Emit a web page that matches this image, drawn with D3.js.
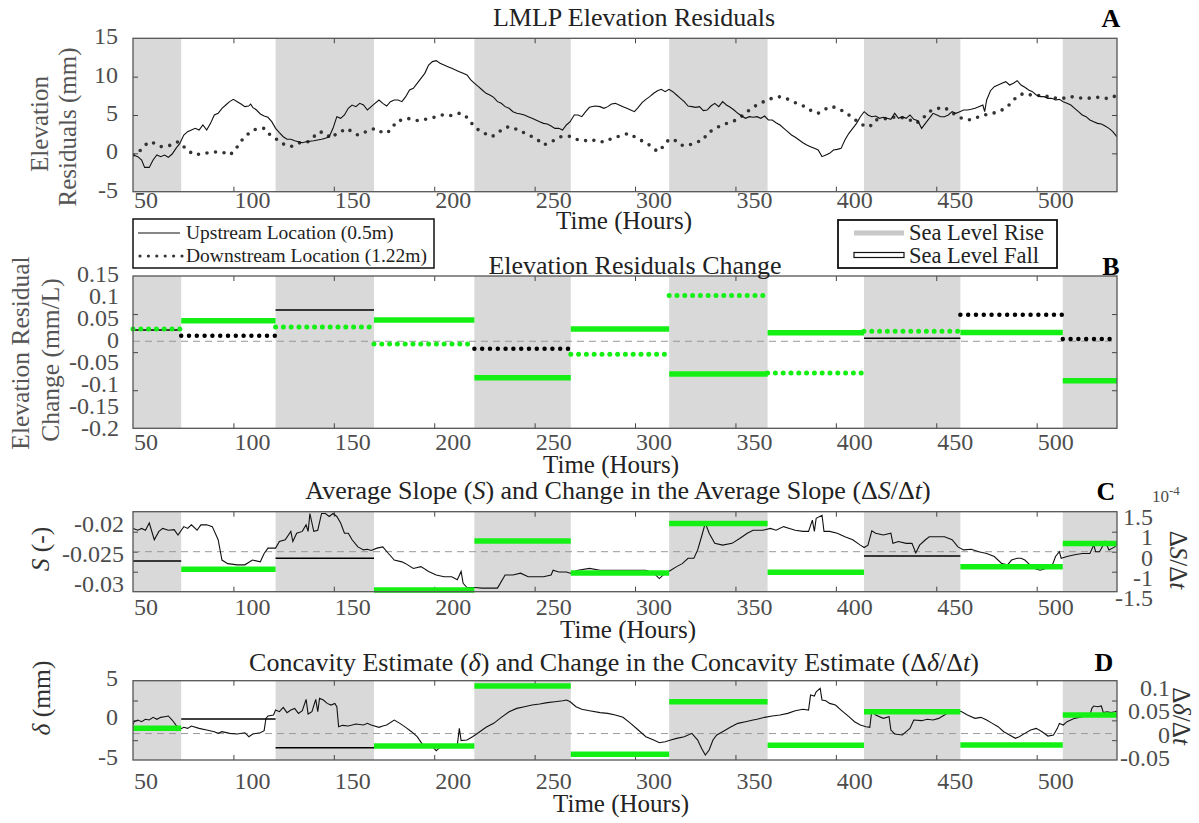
<!DOCTYPE html>
<html>
<head>
<meta charset="utf-8">
<script src="https://cdn.jsdelivr.net/npm/d3@7"></script>
<style>
  body { margin: 0; background: #fff; }
  svg { display: block; }
</style>
</head>
<body>
<div id="chart"></div>
<script>
// ---- data ----
const hourTicks = [50, 100, 150, 200, 250, 300, 350, 400, 450, 500];
// boundaries of the sea level rise / fall periods (hours); even intervals = rise (shaded)
const periodEdges = [50, 74, 121, 170, 220, 268, 317, 366, 414, 462, 513, 540];

// A: elevation residuals (mm)
const upstreamA = [[50.1,-0.22],[52.4,-0.43],[54.3,-0.87],[55.8,-1.83],[58.1,-1.83],[60.0,-0.87],[61.9,-0.22],[63.8,-0.43],[65.7,-0.22],[67.6,-0.52],[69.5,-0.09],[71.4,0.65],[73.3,1.30],[75.3,2.39],[77.2,2.83],[79.1,3.04],[81.0,3.26],[82.9,3.04],[84.8,3.70],[86.7,3.04],[88.6,3.91],[90.5,5.00],[92.4,5.22],[94.3,5.87],[96.2,6.30],[98.1,6.74],[100.0,7.04],[101.9,6.74],[103.8,6.43],[105.7,6.09],[107.6,6.17],[108.6,6.43],[109.6,6.00],[111.5,5.65],[113.4,5.13],[115.3,4.87],[117.2,4.70],[119.1,4.13],[121.0,3.26],[122.9,2.70],[124.8,2.17],[126.7,1.83],[128.6,1.83],[130.5,1.65],[132.4,1.52],[134.3,1.39],[136.2,1.52],[140.0,1.65],[143.9,1.83],[145.8,1.96],[147.7,2.17],[149.6,3.26],[151.5,4.78],[153.4,4.57],[155.3,5.00],[157.2,5.87],[159.1,6.30],[161.0,6.09],[162.9,6.52],[164.8,6.30],[166.7,5.65],[168.6,6.09],[170.5,6.52],[172.5,6.96],[174.4,6.52],[176.3,6.17],[178.2,6.74],[180.1,6.96],[182.0,6.96],[183.9,6.74],[185.8,7.39],[187.7,8.26],[189.6,8.48],[191.5,9.13],[193.4,9.78],[195.3,10.43],[197.2,11.52],[199.1,11.96],[201.0,12.09],[202.9,11.74],[204.9,11.52],[206.8,11.30],[208.7,11.09],[210.6,10.87],[212.5,10.65],[214.4,10.43],[216.3,10.22],[218.2,9.57],[220.1,9.13],[222.0,8.70],[223.9,8.26],[225.8,7.83],[227.7,7.61],[229.6,7.30],[231.5,6.74],[233.4,6.52],[235.3,6.09],[237.3,5.87],[239.2,5.43],[241.1,5.22],[243.0,5.13],[244.9,5.00],[246.8,4.78],[248.7,4.57],[250.6,4.35],[252.5,4.13],[254.4,3.91],[256.3,3.83],[258.2,3.57],[260.1,3.26],[262.0,3.26],[263.9,3.04],[265.8,3.70],[267.7,4.13],[269.7,5.00],[271.6,5.00],[273.5,4.78],[275.4,5.43],[277.3,6.00],[280.1,6.17],[282.6,6.09],[284.5,5.87],[286.4,6.09],[288.3,6.43],[290.2,6.52],[292.1,6.30],[294.0,6.09],[295.9,5.87],[297.8,5.65],[299.7,5.43],[301.6,6.00],[303.5,6.61],[305.4,7.04],[307.3,7.39],[309.3,7.83],[311.2,8.17],[313.1,8.35],[315.0,8.04],[316.9,8.35],[318.8,8.04],[320.7,7.61],[322.6,7.17],[324.5,6.74],[326.4,6.17],[328.3,6.09],[330.2,6.00],[332.1,6.09],[334.0,5.57],[335.9,5.65],[337.8,6.17],[339.7,6.52],[341.7,6.09],[343.6,6.74],[345.5,6.30],[347.4,6.00],[349.3,5.65],[351.2,5.22],[353.1,4.87],[355.0,4.57],[356.9,4.78],[358.8,4.70],[360.7,4.78],[362.6,4.57],[364.5,4.87],[366.4,4.35],[368.3,4.35],[370.2,4.00],[372.2,3.70],[374.1,3.26],[376.0,2.83],[377.9,2.39],[379.8,2.09],[381.7,1.74],[383.6,1.39],[385.5,1.09],[387.4,0.87],[389.3,0.65],[391.2,0.43],[393.1,-0.43],[395.0,-0.22],[396.9,0.00],[398.8,0.43],[400.7,0.52],[402.6,0.65],[404.5,1.74],[406.5,2.61],[408.4,3.26],[410.3,3.91],[412.2,4.78],[414.1,5.43],[416.0,5.00],[417.9,4.78],[419.8,4.87],[421.7,4.57],[423.6,4.70],[425.5,4.57],[427.4,4.43],[429.3,5.22],[431.2,4.57],[433.1,4.78],[435.0,4.57],[436.9,5.00],[438.8,4.43],[440.8,4.26],[442.7,3.26],[444.6,3.91],[446.5,4.57],[448.4,5.22],[450.3,5.00],[452.2,4.78],[454.1,4.78],[456.0,5.00],[457.9,5.43],[459.8,5.22],[461.7,5.43],[463.6,5.65],[465.5,5.65],[467.4,5.74],[469.3,5.87],[471.2,6.09],[473.2,6.30],[474.1,5.43],[475.1,6.96],[477.0,8.17],[478.9,8.70],[480.8,8.91],[482.7,9.13],[484.6,9.35],[486.5,8.91],[488.4,9.13],[490.3,9.48],[492.2,8.91],[494.1,8.61],[496.0,8.26],[497.9,8.04],[499.8,7.61],[501.7,7.39],[503.7,7.39],[505.6,7.17],[507.5,7.17],[509.4,6.96],[511.3,7.04],[513.2,6.74],[515.1,6.52],[517.0,6.30],[518.9,5.87],[520.8,5.43],[522.7,5.00],[524.6,4.78],[526.5,4.35],[528.4,4.13],[530.3,3.91],[532.2,3.83],[534.1,3.57],[536.0,3.26],[537.9,2.83],[539.9,2.17]];
const downstreamA = [[50.1,-0.22],[52.4,0.00],[55.2,0.87],[58.1,1.52],[61.0,1.30],[63.8,0.87],[66.7,0.96],[69.5,1.09],[72.4,1.52],[75.3,0.87],[78.1,0.22],[81.0,-0.22],[84.8,0.00],[88.6,0.09],[92.4,0.22],[95.3,0.09],[98.1,-0.22],[101.0,0.43],[102.9,1.30],[105.7,2.17],[109.6,3.04],[113.4,3.26],[115.3,3.26],[117.2,2.61],[120.0,2.17],[122.9,1.52],[125.8,1.09],[128.6,0.87],[131.5,1.22],[134.3,1.52],[137.2,1.52],[140.0,2.17],[142.9,2.83],[145.8,2.61],[148.6,1.96],[151.5,2.61],[154.4,2.96],[156.3,3.26],[159.1,2.83],[162.0,2.39],[164.8,2.70],[167.7,2.96],[170.5,3.26],[173.4,2.83],[176.3,2.61],[179.1,3.26],[181.0,4.13],[183.9,4.35],[186.7,4.57],[189.6,4.35],[192.5,4.26],[195.3,4.43],[198.2,4.57],[201.0,4.78],[203.9,5.00],[206.8,4.87],[209.6,5.00],[212.5,5.22],[215.3,5.00],[217.2,4.35],[220.1,3.48],[223.0,2.83],[225.8,2.52],[228.7,2.17],[231.5,2.61],[234.4,3.26],[237.3,3.48],[240.1,3.26],[243.0,2.83],[245.8,2.61],[248.7,2.17],[251.6,1.74],[254.4,1.09],[257.3,1.39],[260.1,1.74],[263.0,2.17],[265.8,2.26],[268.7,2.17],[271.6,1.74],[274.4,1.74],[277.3,1.52],[280.1,1.74],[282.6,1.52],[285.4,1.52],[288.3,1.96],[291.2,2.17],[294.0,2.39],[296.9,2.61],[299.7,2.17],[302.6,1.74],[305.4,1.39],[308.3,0.87],[311.2,0.22],[314.0,0.87],[316.9,1.83],[319.7,1.74],[322.6,1.09],[325.5,0.96],[328.3,1.22],[331.2,1.52],[334.0,1.74],[335.9,2.61],[338.8,3.04],[341.7,3.48],[344.5,3.83],[347.4,4.00],[350.2,4.35],[354.0,5.00],[356.9,5.65],[359.8,6.17],[362.6,6.52],[365.5,6.96],[368.3,7.17],[371.2,7.39],[374.1,7.30],[376.9,6.96],[379.8,6.61],[382.6,6.30],[385.5,6.00],[388.3,5.43],[391.2,5.22],[394.1,5.65],[396.9,6.09],[399.8,6.00],[402.6,5.65],[405.5,5.22],[408.4,4.57],[411.2,4.13],[414.1,3.57],[416.9,3.48],[419.8,4.35],[422.7,4.43],[425.5,4.57],[428.4,4.70],[431.2,4.78],[434.1,4.57],[436.9,4.35],[439.8,3.91],[442.7,4.35],[445.5,5.22],[448.4,5.74],[451.2,5.87],[454.1,6.00],[457.0,5.43],[459.8,5.00],[462.7,4.57],[465.5,4.35],[468.4,4.43],[471.2,4.78],[474.1,5.00],[477.0,5.22],[479.8,5.30],[482.7,5.65],[485.5,6.09],[488.4,6.96],[491.3,7.61],[494.1,7.83],[497.0,7.61],[499.8,7.48],[502.7,7.61],[505.6,7.39],[508.4,7.17],[511.3,7.30],[514.1,7.17],[517.0,7.39],[519.9,7.30],[522.7,7.17],[525.6,7.17],[528.4,7.30],[531.3,7.30],[534.1,7.17],[537.0,7.17],[539.9,7.61]];

// B: elevation residual change (mm/L) per period; sig = 1 drawn green
const upChangeB   = [0.026, 0.047, 0.072, 0.049, -0.084, 0.028, -0.075, 0.0195, 0.007, 0.020, -0.091];
const upSigB      = [0, 1, 0, 1, 1, 1, 1, 1, 0, 1, 1];
const downChangeB = [0.028, 0.0126, 0.033, -0.006, -0.017, -0.030, 0.105, -0.073, 0.023, 0.061, 0.005];
const downSigB    = [1, 0, 1, 1, 0, 1, 1, 1, 1, 0, 0];
const bTickLabels = ["0.15", "0.1", "0.05", "0", "-0.05", "-0.1", "-0.15", "-0.2"];

// C: average slope S (-) and its change (x1e-4 per hour)
const slopeC = [[50.1,-0.0206],[52.4,-0.0209],[54.3,-0.0206],[56.2,-0.0209],[58.1,-0.0197],[60.6,-0.0225],[62.9,-0.0211],[64.8,-0.0206],[67.6,-0.0209],[70.5,-0.0208],[72.4,-0.0217],[75.3,-0.0203],[77.2,-0.0206],[79.1,-0.0200],[81.9,-0.0209],[83.8,-0.0200],[86.7,-0.0200],[89.5,-0.0203],[92.4,-0.0225],[94.3,-0.0259],[97.2,-0.0265],[101.9,-0.0267],[105.7,-0.0267],[109.5,-0.0259],[113.4,-0.0262],[115.3,-0.0248],[117.2,-0.0239],[121.0,-0.0239],[122.9,-0.0228],[125.8,-0.0225],[128.6,-0.0211],[129.6,-0.0228],[131.5,-0.0214],[134.3,-0.0211],[136.2,-0.0200],[137.2,-0.0211],[138.1,-0.0181],[140.0,-0.0211],[142.0,-0.0209],[143.9,-0.0181],[145.8,-0.0181],[147.7,-0.0186],[149.6,-0.0181],[151.5,-0.0186],[153.4,-0.0197],[155.3,-0.0214],[157.2,-0.0214],[159.1,-0.0225],[162.0,-0.0237],[164.8,-0.0242],[166.7,-0.0241],[168.6,-0.0243],[171.5,-0.0239],[174.4,-0.0237],[177.2,-0.0248],[180.1,-0.0259],[183.9,-0.0262],[185.8,-0.0265],[189.6,-0.0273],[193.4,-0.0270],[197.2,-0.0278],[201.0,-0.0284],[204.9,-0.0287],[208.7,-0.0287],[211.5,-0.0292],[213.4,-0.0278],[214.4,-0.0298],[216.3,-0.0305],[220.1,-0.0305],[223.9,-0.0306],[227.7,-0.0306],[231.5,-0.0306],[235.3,-0.0284],[239.2,-0.0284],[243.0,-0.0281],[246.8,-0.0287],[250.6,-0.0287],[254.4,-0.0287],[258.2,-0.0284],[259.2,-0.0276],[262.0,-0.0279],[265.8,-0.0279],[267.7,-0.0281],[271.6,-0.0276],[277.3,-0.0273],[282.6,-0.0276],[290.2,-0.0276],[297.8,-0.0276],[301.6,-0.0276],[305.4,-0.0276],[309.3,-0.0281],[312.1,-0.0290],[315.0,-0.0281],[317.8,-0.0276],[320.7,-0.0270],[323.5,-0.0265],[326.4,-0.0256],[329.3,-0.0256],[331.2,-0.0242],[333.1,-0.0220],[335.0,-0.0197],[336.9,-0.0214],[339.7,-0.0231],[343.6,-0.0234],[348.3,-0.0231],[352.1,-0.0223],[355.9,-0.0214],[358.8,-0.0209],[363.6,-0.0209],[367.4,-0.0206],[370.2,-0.0209],[374.0,-0.0203],[376.9,-0.0206],[379.8,-0.0209],[383.6,-0.0211],[386.4,-0.0211],[388.3,-0.0192],[389.3,-0.0211],[390.2,-0.0189],[393.1,-0.0184],[394.1,-0.0211],[396.9,-0.0211],[400.7,-0.0214],[404.5,-0.0220],[408.4,-0.0225],[412.2,-0.0234],[414.1,-0.0238],[416.0,-0.0234],[417.9,-0.0210],[419.8,-0.0214],[423.6,-0.0217],[427.4,-0.0214],[428.4,-0.0231],[431.2,-0.0228],[435.0,-0.0231],[437.9,-0.0231],[439.8,-0.0247],[441.7,-0.0234],[444.6,-0.0225],[446.5,-0.0220],[450.3,-0.0220],[454.1,-0.0220],[457.9,-0.0225],[460.8,-0.0237],[463.6,-0.0242],[467.4,-0.0241],[471.2,-0.0245],[475.1,-0.0248],[478.9,-0.0253],[482.7,-0.0265],[485.5,-0.0267],[487.5,-0.0259],[490.3,-0.0256],[492.2,-0.0256],[494.1,-0.0259],[496.0,-0.0265],[498.9,-0.0273],[501.7,-0.0276],[504.6,-0.0273],[507.5,-0.0270],[509.4,-0.0253],[511.3,-0.0245],[512.2,-0.0256],[515.1,-0.0253],[518.9,-0.0250],[522.7,-0.0248],[526.5,-0.0248],[528.4,-0.0234],[529.4,-0.0245],[531.3,-0.0245],[534.1,-0.0228],[536.0,-0.0242],[538.9,-0.0237],[539.9,-0.0232]];
const slopeChangeC = [-0.35, -0.66, -0.25, -1.44, 0.40, -0.80, 1.06, -0.77, -0.16, -0.56, 0.31];
const slopeSigC    = [0, 1, 0, 1, 1, 1, 1, 1, 0, 1, 1];
const cLeftLabels  = ["-0.02", "-0.025", "-0.03"];
const cRightLabels = ["1.5", "1", "0", "-1", "-1.5"];

// D: concavity estimate delta (mm) and its change
const concavD = [[50.0,-0.59],[50.5,-0.17],[52.4,0.04],[54.3,-0.17],[56.2,0.13],[58.1,0.04],[60.0,0.38],[61.9,0.13],[63.8,0.38],[65.7,0.46],[67.6,0.55],[69.5,0.04],[71.4,-0.59],[73.3,-1.14],[75.3,-0.88],[77.2,-1.01],[79.1,-0.71],[82.9,-1.01],[86.7,-1.22],[90.5,-1.43],[92.4,-1.64],[94.3,-1.43],[98.1,-1.64],[101.9,-1.72],[105.7,-1.56],[107.7,-2.06],[109.6,-1.72],[113.4,-1.56],[115.3,-1.30],[116.2,0.25],[117.2,0.55],[120.0,0.67],[121.0,1.30],[122.9,1.09],[124.8,1.64],[126.7,0.97],[128.6,1.30],[130.5,1.51],[132.4,0.88],[134.3,1.22],[136.2,2.65],[137.2,0.80],[139.1,1.09],[141.0,2.65],[142.0,1.09],[142.9,2.77],[144.8,2.56],[146.7,2.14],[148.6,1.93],[150.5,2.14],[151.5,1.72],[152.4,-0.80],[154.3,-0.63],[157.2,-0.71],[161.0,-0.46],[164.8,-0.59],[166.7,-0.38],[168.6,-0.59],[172.5,-0.88],[174.4,-0.71],[176.3,-0.59],[180.1,0.04],[182.9,-0.38],[185.8,-0.88],[188.7,-1.43],[191.5,-2.06],[194.4,-3.11],[196.3,-3.32],[199.1,-3.32],[201.0,-3.83],[202.9,-3.41],[205.8,-3.24],[208.7,-3.24],[211.5,-3.11],[212.5,-1.01],[213.4,-2.56],[216.3,-2.48],[219.1,-2.06],[222.0,-1.56],[225.8,-0.88],[229.6,-0.38],[233.4,0.38],[237.3,1.09],[241.1,1.51],[244.9,1.72],[248.7,1.93],[252.5,2.06],[256.3,2.23],[260.1,2.35],[264.0,2.48],[265.9,2.56],[267.7,2.35],[270.6,1.72],[273.5,1.39],[277.3,1.22],[282.6,0.97],[286.4,0.88],[290.2,0.67],[294.0,0.38],[297.8,-0.38],[301.6,-1.22],[305.4,-2.06],[309.3,-2.48],[312.1,-2.82],[315.0,-2.69],[317.8,-2.48],[320.7,-2.27],[324.5,-2.06],[328.3,-1.64],[331.2,-2.48],[333.1,-3.53],[335.0,-4.37],[336.9,-3.74],[338.8,-2.48],[340.7,-1.85],[343.6,-1.43],[347.4,-0.88],[351.2,-0.38],[355.0,-0.17],[358.8,0.04],[360.7,0.13],[364.5,0.38],[368.3,0.55],[372.2,0.67],[376.0,0.88],[379.8,1.22],[383.6,1.39],[386.4,1.30],[387.4,3.19],[389.3,3.07],[390.2,3.61],[392.2,4.03],[393.1,2.56],[395.0,2.48],[396.9,2.14],[399.8,1.93],[402.6,1.30],[406.5,0.46],[409.3,-0.17],[412.2,-0.59],[415.0,-0.80],[416.9,-0.88],[417.9,1.22],[419.8,0.67],[423.6,0.25],[426.5,0.46],[427.4,-1.22],[429.3,-1.72],[433.1,-1.85],[435.0,-1.43],[436.9,-1.01],[438.8,0.04],[442.7,-0.04],[445.5,0.13],[448.4,0.04],[451.2,0.25],[454.1,0.67],[456.0,0.97],[459.8,1.30],[462.7,1.09],[465.5,0.67],[469.3,0.25],[472.2,0.38],[475.1,0.04],[477.9,-0.38],[480.8,-0.80],[483.6,-1.43],[486.5,-1.85],[489.4,-2.27],[491.3,-2.06],[494.1,-1.64],[497.0,-1.22],[499.8,-1.01],[502.7,-1.43],[505.6,-1.98],[508.4,-1.85],[510.3,-1.01],[511.3,-0.38],[513.2,-0.59],[515.1,-0.17],[518.9,0.25],[522.7,0.46],[526.5,0.67],[527.5,1.51],[528.4,1.81],[530.3,1.72],[532.2,1.81],[533.2,0.97],[535.1,1.09],[537.0,0.97],[538.9,1.09],[539.9,1.18]];
const concavChangeD = [0.010, 0.0276, -0.0267, -0.0235, 0.090, -0.039, 0.060, -0.022, 0.0415, -0.0216, 0.035];
const concavSigD    = [1, 0, 0, 1, 1, 1, 1, 1, 1, 1, 1];
const dLeftLabels   = ["5", "0", "-5"];
const dRightLabels  = ["0.1", "0.05", "0", "-0.05"];

// ---- drawing ----
const FONT = "'Liberation Serif', 'Times New Roman', serif";
const GREEN = "#14f014";
const SHADE = "#d9d9d9";
const TICK_FONT = 24;

const svg = d3.select("#chart").append("svg")
    .attr("width", 1199)
    .attr("height", 823)
    .attr("font-family", FONT);

const x = d3.scaleLinear().domain([50, 540]).range([133, 1117]);

const periods = d3.range(periodEdges.length - 1).map(i => ({ i, a: periodEdges[i], b: periodEdges[i + 1] }));

function label(g, px, py, parts, o = {}) {
    const t = g.append("text")
        .attr("transform", `translate(${px},${py})` + (o.rotate ? ` rotate(${o.rotate})` : ""))
        .attr("text-anchor", o.anchor || "start")
        .attr("font-size", o.size || TICK_FONT)
        .attr("font-weight", o.weight || null)
        .attr("fill", o.color || "#222");
    (typeof parts === "string" ? [parts] : parts).forEach(p => {
        const s = typeof p === "string" ? { t: p } : p;
        t.append("tspan")
            .attr("font-style", s.i ? "italic" : null)
            .attr("font-size", s.size || null)
            .attr("dy", s.dy || null)
            .text(s.t);
    });
    return t;
}

function panel(id, top, bottom, yTickScale, yTickVals) {
    const g = svg.append("g");
    g.append("clipPath").attr("id", "clip" + id)
        .append("rect").attr("x", x(50)).attr("y", top)
        .attr("width", x(540) - x(50)).attr("height", bottom - top);

    g.selectAll(".shade")
        .data(periods.filter(p => p.i % 2 === 0))
        .join("rect")
        .attr("x", p => x(p.a))
        .attr("y", top)
        .attr("width", p => x(p.b) - x(p.a))
        .attr("height", bottom - top)
        .attr("fill", SHADE);

    const ticks = g.append("g");
    const tickStyle = sel => {
        sel.select(".domain").remove();
        sel.selectAll("line").attr("stroke", "#444");
    };
    ticks.append("g").attr("transform", `translate(0,${bottom})`)
        .call(d3.axisBottom(x).tickValues(hourTicks.slice(1)).tickSize(-5).tickFormat(""))
        .call(tickStyle);
    ticks.append("g").attr("transform", `translate(0,${top})`)
        .call(d3.axisTop(x).tickValues(hourTicks.slice(1)).tickSize(-5).tickFormat(""))
        .call(tickStyle);
    ticks.append("g").attr("transform", `translate(${x(50)},0)`)
        .call(d3.axisLeft(yTickScale).tickValues(yTickVals).tickSize(-5).tickFormat(""))
        .call(tickStyle);
    ticks.append("g").attr("transform", `translate(${x(540)},0)`)
        .call(d3.axisRight(yTickScale).tickValues(yTickVals).tickSize(-5).tickFormat(""))
        .call(tickStyle);

    const frame = () => g.append("rect")
        .attr("x", x(50)).attr("y", top)
        .attr("width", x(540) - x(50)).attr("height", bottom - top)
        .attr("fill", "none").attr("stroke", "#555").attr("stroke-width", 1.3);

    return { g, clip: `url(#clip${id})`, frame };
}

function xLabels(g, baseline) {
    g.selectAll(null)
        .data(hourTicks)
        .join("text")
        .attr("x", d => x(d) + 1)
        .attr("y", baseline)
        .attr("font-size", TICK_FONT)
        .attr("fill", "#4d4d4d")
        .text(d => d);
}

// pos gives the vertical centre of each label
function yLabels(g, vals, pos, px) {
    g.selectAll(null)
        .data(vals)
        .join("text")
        .attr("x", px)
        .attr("y", d => pos(d) + 8)
        .attr("text-anchor", "end")
        .attr("font-size", TICK_FONT)
        .attr("fill", "#4d4d4d")
        .text(d => d);
}

function dashedZero(g, yPos) {
    g.append("line")
        .attr("x1", x(50)).attr("x2", x(540))
        .attr("y1", yPos).attr("y2", yPos)
        .attr("stroke", "#999").attr("stroke-width", 1)
        .attr("stroke-dasharray", "7,5");
}

function steps(g, values, sig, yScale, dotted) {
    g.selectAll(null)
        .data(periods)
        .join("line")
        .attr("x1", p => x(p.a))
        .attr("x2", p => x(p.b))
        .attr("y1", p => yScale(values[p.i]))
        .attr("y2", p => yScale(values[p.i]))
        .attr("stroke", p => sig[p.i] ? GREEN : "#000")
        .attr("stroke-width", p => dotted ? (sig[p.i] ? 5 : 4.5) : (sig[p.i] ? 5.5 : 1.5))
        .attr("stroke-linecap", dotted ? "round" : "butt")
        .attr("stroke-dasharray", dotted ? "0,7.8" : null);
}

// ---------- A ----------
const yA = d3.scaleLinear().domain([-5, 15]).range([191.7, 38.3]);
const A = panel("A", 38.3, 191.7, yA, [10, 5, 0]);
const lineA = d3.line().x(d => x(d[0])).y(d => yA(d[1]));
A.g.append("path").datum(downstreamA)
    .attr("d", lineA).attr("clip-path", A.clip)
    .attr("fill", "none").attr("stroke", "#333").attr("stroke-width", 3.6)
    .attr("stroke-linecap", "round").attr("stroke-dasharray", "0,8.6");
A.g.append("path").datum(upstreamA)
    .attr("d", lineA).attr("clip-path", A.clip)
    .attr("fill", "none").attr("stroke", "#111").attr("stroke-width", 1.1);
A.frame();
yLabels(A.g, [15, 10, 5, 0, -5], v => yA(v) - 2, 118);
xLabels(A.g, 208);
label(A.g, 634, 26, "LMLP Elevation Residuals", { anchor: "middle", size: 26 });
label(A.g, 1111, 27, "A", { anchor: "middle", size: 26, weight: "bold", color: "#000" });
label(A.g, 624, 229, "Time (Hours)", { anchor: "middle", size: 25 });
label(A.g, 48, 124, "Elevation", { anchor: "middle", size: 25, rotate: -90, color: "#555" });
label(A.g, 76, 127, "Residuals (mm)", { anchor: "middle", size: 25, rotate: -90, color: "#555" });

// legends under A
const leg1 = svg.append("g");
leg1.append("rect").attr("x", 133).attr("y", 219).attr("width", 301).attr("height", 49)
    .attr("fill", "#fff").attr("stroke", "#111").attr("stroke-width", 1.5);
leg1.append("line").attr("x1", 138).attr("x2", 180).attr("y1", 233).attr("y2", 233)
    .attr("stroke", "#111").attr("stroke-width", 1.1);
leg1.append("line").attr("x1", 140).attr("x2", 182).attr("y1", 256).attr("y2", 256)
    .attr("stroke", "#333").attr("stroke-width", 3.2).attr("stroke-linecap", "round")
    .attr("stroke-dasharray", "0,8.4");
label(leg1, 186, 239, "Upstream Location (0.5m)", { size: 19.5 });
label(leg1, 186, 262, "Downstream Location (1.22m)", { size: 19.5 });

const leg2 = svg.append("g");
leg2.append("rect").attr("x", 838).attr("y", 220).attr("width", 219).attr("height", 48)
    .attr("fill", "#fff").attr("stroke", "#111").attr("stroke-width", 1.8);
leg2.append("line").attr("x1", 854).attr("x2", 904).attr("y1", 233).attr("y2", 233)
    .attr("stroke", "#c8c8c8").attr("stroke-width", 5);
leg2.append("rect").attr("x", 854).attr("y", 252.5).attr("width", 50).attr("height", 5)
    .attr("fill", "#fff").attr("stroke", "#111").attr("stroke-width", 1.2);
label(leg2, 909, 240, "Sea Level Rise", { size: 22.5 });
label(leg2, 909, 263, "Sea Level Fall", { size: 22.5 });

// ---------- B ----------
const yB = d3.scaleLinear().domain([-0.2, 0.15]).range([428.3, 276]);
const B = panel("B", 276, 428.3, yB, [0.0625, -0.025, -0.1125]);
dashedZero(B.g, yB(0));
steps(B.g, upChangeB, upSigB, yB, false);
steps(B.g, downChangeB, downSigB, yB, true);
B.frame();
const bLab = d3.scalePoint().domain(bTickLabels).range([274, 428]);
yLabels(B.g, bTickLabels, d => bLab(d), 119);
xLabels(B.g, 450);
label(B.g, 635, 274, "Elevation Residuals Change", { anchor: "middle", size: 26 });
label(B.g, 1111, 275, "B", { anchor: "middle", size: 26, weight: "bold", color: "#000" });
label(B.g, 611, 473, "Time (Hours)", { anchor: "middle", size: 25 });
label(B.g, 29, 353, "Elevation Residual", { anchor: "middle", size: 25.5, rotate: -90, color: "#555" });
label(B.g, 59, 360, "Change (mm/L)", { anchor: "middle", size: 25.5, rotate: -90, color: "#555" });

// ---------- C ----------
const yC = d3.scaleLinear().domain([-0.0312, -0.0178]).range([591.7, 511.7]);
const yCr = d3.scaleLinear().domain([-1.5, 1.5]).range([591.7, 511.7]);
const C = panel("C", 511.7, 591.7, yCr, [0.75, 0, -0.75]);
dashedZero(C.g, yCr(0));
C.g.append("path").datum(slopeC)
    .attr("d", d3.line().x(d => x(d[0])).y(d => yC(d[1])))
    .attr("clip-path", C.clip)
    .attr("fill", "none").attr("stroke", "#111").attr("stroke-width", 1.1);
steps(C.g, slopeChangeC, slopeSigC, yCr, false);
C.frame();
yLabels(C.g, cLeftLabels, d => yC(+d) - 1, 124);
const cRightLab = d3.scalePoint().domain(cRightLabels).range([517, 598]);
yLabels(C.g, cRightLabels, d => cRightLab(d), 1153);
label(C.g, 1152, 502, [{ t: "10", size: 17 }, { t: "-4", size: 13, dy: -7 }], { size: 17, color: "#4d4d4d" });
xLabels(C.g, 615);
label(C.g, 618, 499, ["Average Slope (", { t: "S", i: true }, ") and Change in the Average Slope (\u0394", { t: "S", i: true }, "/\u0394", { t: "t", i: true }, ")"], { anchor: "middle", size: 26 });
label(C.g, 1106, 500, "C", { anchor: "middle", size: 26, weight: "bold", color: "#000" });
label(C.g, 628, 638, "Time (Hours)", { anchor: "middle", size: 25 });
label(C.g, 49, 549, [{ t: "S", i: true }, " (-)"], { anchor: "middle", size: 25.5, rotate: -90, color: "#333" });
label(C.g, 1170, 560, ["\u0394", { t: "S", i: true }, "/\u0394", { t: "t", i: true }], { anchor: "middle", size: 25, rotate: 90, color: "#333" });

// ---------- D ----------
const yD = d3.scaleLinear().domain([-5, 5]).range([760, 680.7]);
const yDr = d3.scaleLinear().domain([-0.05, 0.1]).range([760, 680.7]);
const D = panel("D", 680.7, 760, yD, [2.5, 0, -2.5]);
dashedZero(D.g, yDr(0));
D.g.append("path").datum(concavD)
    .attr("d", d3.line().x(d => x(d[0])).y(d => yD(d[1])))
    .attr("clip-path", D.clip)
    .attr("fill", "none").attr("stroke", "#111").attr("stroke-width", 1.1);
steps(D.g, concavChangeD, concavSigD, yDr, false);
D.frame();
yLabels(D.g, dLeftLabels, d => yD(+d) - 3, 118);
const dRightLab = d3.scalePoint().domain(dRightLabels).range([688, 758]);
yLabels(D.g, dRightLabels, d => dRightLab(d), 1170);
xLabels(D.g, 789);
label(D.g, 614, 671, ["Concavity Estimate (", { t: "\u03b4", i: true }, ") and Change in the Concavity Estimate (\u0394", { t: "\u03b4", i: true }, "/\u0394", { t: "t", i: true }, ")"], { anchor: "middle", size: 26 });
label(D.g, 1104, 671, "D", { anchor: "middle", size: 26, weight: "bold", color: "#000" });
label(D.g, 621, 812, "Time (Hours)", { anchor: "middle", size: 25 });
label(D.g, 50, 698, [{ t: "\u03b4", i: true }, " (mm)"], { anchor: "middle", size: 25.5, rotate: -90, color: "#333" });
label(D.g, 1173, 716, ["\u0394", { t: "\u03b4", i: true }, "/\u0394", { t: "t", i: true }], { anchor: "middle", size: 25, rotate: 90, color: "#333" });
</script>
</body>
</html>
